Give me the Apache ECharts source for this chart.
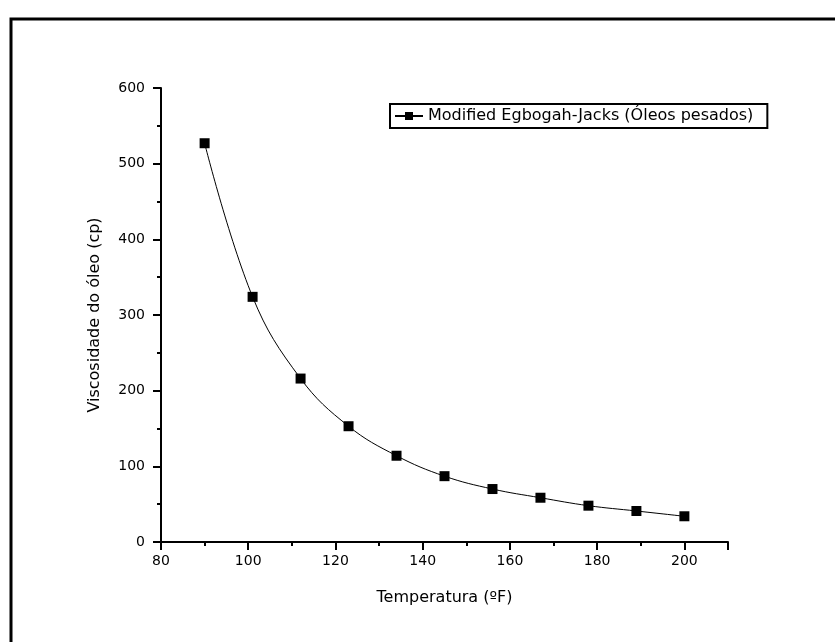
<!DOCTYPE html>
<html>
<head>
<meta charset="utf-8">
<script src="https://cdn.jsdelivr.net/npm/echarts@6/dist/echarts.min.js"></script>
<style>html,body{margin:0;padding:0;background:#fff}#c{width:835px;height:642px}</style>
</head>
<body>
<div id="c"></div>
<script>
var temperatures = [90, 101, 112, 123, 134, 145, 156, 167, 178, 189, 200];
var viscosities = [527, 324, 216, 153, 114, 87, 70, 58.5, 48, 41, 34];
var seriesName = 'Modified Egbogah-Jacks (Óleos pesados)';
var xTitle = 'Temperatura (ºF)';
var yTitle = 'Viscosidade do óleo (cp)';

var FONT = 'DejaVu Sans';
var chart = echarts.init(document.getElementById('c'), null, {renderer: 'canvas'});
var axisCommon = {
  axisLine: {show: true, onZero: false, lineStyle: {color: '#000', width: 2}},
  axisTick: {show: true, inside: false, length: 8, lineStyle: {color: '#000', width: 2}},
  minorTick: {show: true, splitNumber: 2, length: 4, lineStyle: {color: '#000', width: 2}},
  splitLine: {show: false},
  axisLabel: {color: '#000', fontFamily: FONT, fontSize: 14},
  nameTextStyle: {color: '#000', fontFamily: FONT, fontSize: 16},
  nameLocation: 'middle'
};
chart.setOption({
  animation: false,
  backgroundColor: '#fff',
  graphic: [{
    type: 'rect', silent: true,
    shape: {x: 11, y: 19, width: 900, height: 700},
    style: {fill: 'none', stroke: '#000', lineWidth: 3}
  }],
  grid: {left: 161, right: 107, top: 88, bottom: 100},
  legend: {
    show: true,
    left: 390, top: 104,
    orient: 'horizontal',
    borderColor: '#000', borderWidth: 2,
    padding: [4, 14, 4, 4],
    itemWidth: 28, itemHeight: 10,
    textStyle: {color: '#000', fontFamily: FONT, fontSize: 16},
    data: [seriesName]
  },
  xAxis: Object.assign({}, axisCommon, {
    type: 'value', min: 80, max: 210, interval: 20,
    name: xTitle, nameGap: 48,
    axisLabel: Object.assign({}, axisCommon.axisLabel, {margin: 12, showMaxLabel: false})
  }),
  yAxis: Object.assign({}, axisCommon, {
    type: 'value', min: 0, max: 600, interval: 100,
    name: yTitle, nameGap: 58,
    axisLabel: Object.assign({}, axisCommon.axisLabel, {margin: 16})
  }),
  series: [{
    name: seriesName,
    type: 'line',
    smooth: 0.4,
    data: temperatures.map(function (t, i) { return [t, viscosities[i]]; }),
    symbol: 'rect', symbolSize: 10,
    itemStyle: {color: '#000'},
    lineStyle: {color: '#000', width: 1}
  }]
});
</script>
</body>
</html>
